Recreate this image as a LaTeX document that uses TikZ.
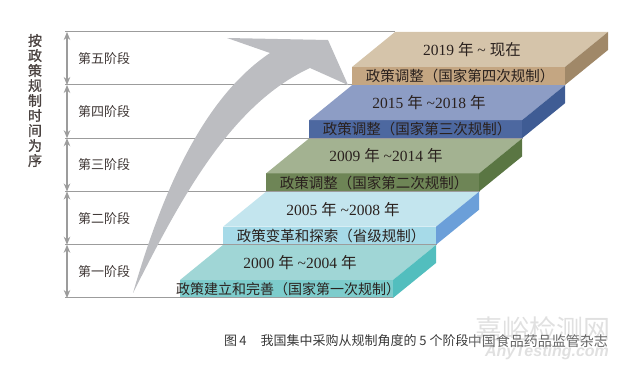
\documentclass[tikz,border=0pt]{standalone}
\usepackage{fontspec}
\setmainfont{Liberation Serif}
\newfontfamily\cjk{Noto Sans CJK SC}
\newfontfamily\cjkbold[FakeBold=1.2]{Noto Sans CJK SC}
\newfontfamily\wmsans{Liberation Sans}
\usetikzlibrary{arrows.meta}
\definecolor{topA}{HTML}{A0D6D6}\definecolor{frontA}{HTML}{7DCCCC}\definecolor{sideA}{HTML}{52BEBE}
\definecolor{topB}{HTML}{C3E5EE}\definecolor{frontB}{HTML}{A6DAE8}\definecolor{sideB}{HTML}{6B9FD9}
\definecolor{topC}{HTML}{A3B291}\definecolor{frontC}{HTML}{6E8556}\definecolor{sideC}{HTML}{5A7643}
\definecolor{topD}{HTML}{8D9DC5}\definecolor{frontD}{HTML}{4D68A0}\definecolor{sideD}{HTML}{3F5C94}
\definecolor{topE}{HTML}{D5C4AA}\definecolor{frontE}{HTML}{C4A682}\definecolor{sideE}{HTML}{A08868}
\definecolor{arrowgray}{HTML}{BCBDC1}
\definecolor{linegray}{HTML}{9C9C9C}
\definecolor{txtdark}{HTML}{2A211E}
\newcommand\mkslab[9]{%
  \fill[#5] (#2,#3) rectangle ++(213,18);
  \fill[#4] (#2,#3) -- ++(43,-35) -- ++(213,0) -- ++(-43,35) -- cycle;
  \fill[#6] (#2+213,#3) -- ++(43,-35) -- ++(0,18) -- ++(-43,35) -- cycle;
  \node[yeartxt] (#1y) at (#2+120,#3-17.5) {#7};
  \node[fronttxt,font=\cjk\fontsize{#9}{#9}\selectfont] (#1f) at (#2+108,#3+9) {#8};
}
\begin{document}
\begin{tikzpicture}[x=1pt,y=-1pt,
  hline/.style={draw=linegray,line width=1pt},
  varrow/.style={draw=linegray,line width=1.1pt,{Stealth[length=8pt,width=6.5pt]}-{Stealth[length=8pt,width=6.5pt]}},
  yeartxt/.style={inner sep=0pt,text=txtdark,font=\fontsize{15.5}{15.5}\selectfont},
  fronttxt/.style={inner sep=0pt,text=txtdark},
  stagetxt/.style={inner sep=0pt,text=txtdark!90,font=\cjk\fontsize{13}{13}\selectfont},
  ]
\useasboundingbox (0,0) rectangle (630,371);
% level coordinates
\coordinate (L0) at (67,298);
\coordinate (L1) at (67,244.75);
\coordinate (L2) at (67,191.5);
\coordinate (L3) at (67,138.25);
\coordinate (L4) at (67,85);
\coordinate (L5) at (67,32);
% slabs
\mkslab{sA}{180}{280}{topA}{frontA}{sideA}{2000 {\cjk 年} \textasciitilde2004 {\cjk 年}}{政策建立和完善（国家第一次规制）}{14}
\mkslab{sB}{223}{226.75}{topB}{frontB}{sideB}{2005 {\cjk 年} \textasciitilde2008 {\cjk 年}}{政策变革和探索（省级规制）}{14.5}
\mkslab{sC}{266}{173.5}{topC}{frontC}{sideC}{2009 {\cjk 年} \textasciitilde2014 {\cjk 年}}{政策调整（国家第二次规制）}{14.5}
\mkslab{sD}{309}{120.25}{topD}{frontD}{sideD}{2015 {\cjk 年} \textasciitilde2018 {\cjk 年}}{政策调整（国家第三次规制）}{14.5}
\mkslab{sE}{352}{67}{topE}{frontE}{sideE}{2019 {\cjk 年} \textasciitilde\ {\cjk 现在}}{政策调整（国家第四次规制）}{14.5}
% horizontal level lines
\draw[hline] (65,298) -- (393,298);
\draw[hline] (65,244.75) -- (437,244.75);
\draw[hline] (65,191.5) -- (480,191.5);
\draw[hline] (65,138.25) -- (523,138.25);
\draw[hline] (65,85) -- (352,85);
\draw[hline] (65,32) -- (395,32);
% vertical double arrows
\draw[varrow] (L0) -- (L1);
\draw[varrow] (L1) -- (L2);
\draw[varrow] (L2) -- (L3);
\draw[varrow] (L3) -- (L4);
\draw[varrow] (L4) -- (L5);
% big curved arrow
\fill[arrowgray] (133,293) .. controls (160,200) and (200,100) .. (270,53)
  -- (227,38) -- (328,40) -- (348,85) -- (310,68)
  .. controls (230,105) and (180,200) .. (133,293) -- cycle;
% stage labels
\node[stagetxt] (st1) at (104,271.4) {第一阶段};
\node[stagetxt] (st2) at (104,218.1) {第二阶段};
\node[stagetxt] (st3) at (104,164.9) {第三阶段};
\node[stagetxt] (st4) at (104,111.6) {第四阶段};
\node[stagetxt] (st5) at (104,58.5) {第五阶段};
% vertical title
\node[inner sep=0pt,align=center,text=txtdark!85,font=\cjkbold\fontsize{14}{15}\selectfont] (title) at (35,100.5)
  {按\\政\\策\\规\\制\\时\\间\\为\\序};
% watermark
\node[inner sep=0pt,text=black!12,font=\cjk\fontsize{27}{27}\selectfont] (wm1) at (543,329) {嘉峪检测网};
\node[inner sep=0pt,text=black!12,font=\wmsans\bfseries\itshape\fontsize{16}{16}\selectfont] (wm2) at (547,352) {AnyTesting.com};
% caption
\node[inner sep=0pt,anchor=west,text=black!78,font=\cjk\fontsize{13}{13}\selectfont] (cap) at (224,341)
  {图\,4\hspace{14pt}我国集中采购从规制角度的 5 个阶段};
\node[inner sep=0pt,anchor=east,text=black!60,font=\cjk\fontsize{14}{14}\selectfont] (wm3) at (608,341) {中国食品药品监管杂志};
\end{tikzpicture}
\end{document}
